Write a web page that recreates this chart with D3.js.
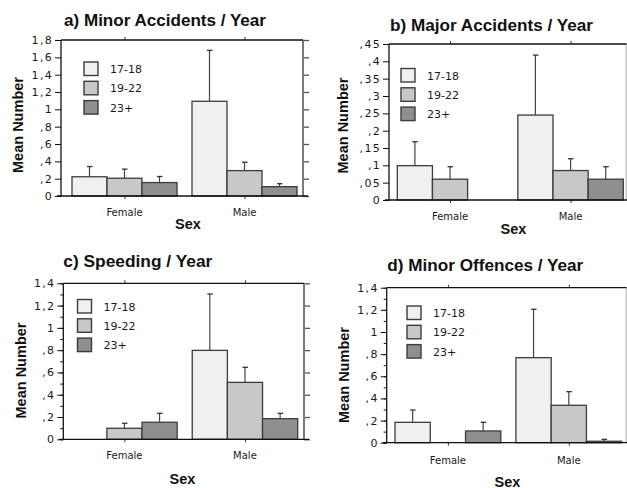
<!DOCTYPE html>
<html>
<head>
<meta charset="utf-8">
<script src="https://cdn.jsdelivr.net/npm/d3@7"></script>
<style>
  html, body { margin: 0; padding: 0; background: #fff; }
  svg { display: block; }
  .title { font-family: "Liberation Sans", Arial, sans-serif; font-weight: bold; font-size: 17px; fill: #111; }
  .axis-title { font-family: "Liberation Sans", Arial, sans-serif; font-weight: bold; font-size: 14.5px; fill: #111; }
  .tick-label { font-family: "DejaVu Sans", sans-serif; font-size: 11px; letter-spacing: 1.3px; fill: #1a1a1a; }
  .cat-label { font-family: "DejaVu Sans", sans-serif; font-size: 10px; fill: #1a1a1a; }
  .legend-label { font-family: "DejaVu Sans", sans-serif; font-size: 11px; fill: #1a1a1a; }
</style>
</head>
<body>
<div id="chart"></div>
<script>
// Categories
const sexes = ["Female", "Male"];
const ageGroups = ["17-18", "19-22", "23+"];

// Means per sex (rows) and age group (columns); "Upper" = mean + standard error
const minorAccidentsMean  = [[0.222, 0.205, 0.155], [1.093, 0.293, 0.108]];
const minorAccidentsUpper = [[0.340, 0.310, 0.225], [1.680, 0.390, 0.142]];

const majorAccidentsMean  = [[0.099, 0.060, 0.000], [0.245, 0.085, 0.060]];
const majorAccidentsUpper = [[0.168, 0.096, null],  [0.418, 0.119, 0.096]];

const speedingMean  = [[0.000, 0.099, 0.153], [0.798, 0.511, 0.185]];
const speedingUpper = [[null,  0.144, 0.233], [1.304, 0.646, 0.233]];

const minorOffencesMean  = [[0.184, 0.000, 0.106], [0.768, 0.338, 0.013]];
const minorOffencesUpper = [[0.295, null,  0.184], [1.205, 0.461, 0.030]];

// Value-axis tick labels
const minorAccidentsTicks = [0, 0.2, 0.4, 0.6, 0.8, 1, 1.2, 1.4, 1.6, 1.8];
const majorAccidentsTicks = [0, 0.05, 0.1, 0.15, 0.2, 0.25, 0.3, 0.35, 0.4, 0.45];
const speedingTicks = [0, 0.2, 0.4, 0.6, 0.8, 1, 1.2, 1.4];
const minorOffencesTicks = [0, 0.2, 0.4, 0.6, 0.8, 1, 1.2, 1.4];

const ageFill = d3.scaleOrdinal().domain(ageGroups).range(["#f0f0f0", "#c8c8c8", "#8f8f8f"]);

const panels = [
  { title: "a) Minor Accidents / Year", mean: minorAccidentsMean, upper: minorAccidentsUpper, ticks: minorAccidentsTicks,
    minor: false, rightTicks: true, rightColor: "#7a7a7a",
    frame: { l: 61, r: 303, t: 40, b: 196 }, bars: [72, 297],
    titleAt: [64, 26, 202], yTitleAt: [22.5, 125], sexAt: [188, 229], catY: 216, legendAt: [84, 62] },
  { title: "b) Major Accidents / Year", mean: majorAccidentsMean, upper: majorAccidentsUpper, ticks: majorAccidentsTicks,
    minor: false, rightTicks: false, rightColor: "#c4c4c4",
    frame: { l: 389, r: 626.5, t: 44, b: 200 }, bars: [397.3, 623.3],
    titleAt: [390, 31, 203], yTitleAt: [347.5, 125.5], sexAt: [513.5, 234], catY: 219.5, legendAt: [401, 68.5] },
  { title: "c) Speeding / Year", mean: speedingMean, upper: speedingUpper, ticks: speedingTicks,
    minor: true, rightTicks: true, rightColor: "#7a7a7a",
    frame: { l: 63.3, r: 304, t: 283.3, b: 439.3 }, bars: [71.7, 297.7],
    titleAt: [63.3, 267, 149], yTitleAt: [26, 370.5], sexAt: [182.5, 484], catY: 459, legendAt: [77.5, 299.5] },
  { title: "d) Minor Offences / Year", mean: minorOffencesMean, upper: minorOffencesUpper, ticks: minorOffencesTicks,
    minor: true, rightTicks: false, rightColor: "#c4c4c4",
    frame: { l: 386.7, r: 626.5, t: 287.7, b: 442.7 }, bars: [395, 621.7],
    titleAt: [387.3, 271, 196], yTitleAt: [349.3, 375], sexAt: [507.5, 486.5], catY: 463.5, legendAt: [407, 306] }
];

// Decimal comma, no leading zero: 0.45 -> ",45", 1.2 -> "1,2"
const fmt = v => {
  if (v === 0) return "0";
  return d3.format(".2~f")(v).replace(/^0\./, ".").replace(".", ",");
};

const svg = d3.select("#chart").append("svg")
  .attr("width", 627).attr("height", 488);

panels.forEach(p => {
  const g = svg.append("g");
  const f = p.frame;
  const yMax = p.ticks[p.ticks.length - 1];
  const y = d3.scaleLinear().domain([0, yMax]).range([f.b, f.t]);
  const x0 = d3.scaleBand().domain(sexes).range(p.bars).paddingInner(0.125).paddingOuter(0);
  const x1 = d3.scaleBand().domain(ageGroups).range([0, x0.bandwidth()]).padding(0);
  const centers = d3.scalePoint().domain(sexes)
    .range([x0("Female") + x0.bandwidth() / 2, x0("Male") + x0.bandwidth() / 2]);

  // Right axis (gray)
  const right = g.append("g").attr("transform", `translate(${f.r},0)`);
  if (p.rightTicks) {
    if (p.minor) {
      right.call(d3.axisRight(y).tickValues(d3.range(0, yMax + 1e-9, 0.1)).tickSize(4).tickFormat(""));
    }
    right.call(d3.axisRight(y).tickValues(p.ticks).tickSize(6).tickFormat(""));
    right.selectAll(".tick line").attr("stroke", "#555").attr("stroke-width", 1.3);
    right.selectAll(".domain").remove();
  }
  g.append("line").attr("x1", f.r).attr("x2", f.r).attr("y1", f.t).attr("y2", f.b)
    .attr("stroke", p.rightColor).attr("stroke-width", 2);

  // Top axis
  const top = g.append("g").attr("transform", `translate(0,${f.t})`)
    .call(d3.axisTop(centers).tickSize(3).tickFormat(""));
  top.select(".domain").remove();
  top.selectAll(".tick line").attr("stroke", "#333");
  g.append("line").attr("x1", f.l).attr("x2", f.r).attr("y1", f.t).attr("y2", f.t)
    .attr("stroke", "#111").attr("stroke-width", 1.3);

  // Bars
  const rows = [];
  sexes.forEach((s, i) => ageGroups.forEach((a, j) => {
    rows.push({ sex: s, age: a, mean: p.mean[i][j], upper: p.upper[i][j] });
  }));
  const bx = d => x0(d.sex) + x1(d.age);

  // Error bars (drawn first so bar tops cover their base)
  const err = rows.filter(d => d.upper !== null && d.mean > 0);
  g.selectAll(".err").data(err).join("line")
    .attr("x1", d => bx(d) + x1.bandwidth() / 2).attr("x2", d => bx(d) + x1.bandwidth() / 2)
    .attr("y1", d => y(d.mean)).attr("y2", d => y(d.upper))
    .attr("stroke", "#444").attr("stroke-width", 1.2);
  g.selectAll(".cap").data(err).join("line")
    .attr("x1", d => bx(d) + x1.bandwidth() / 2 - 2.5).attr("x2", d => bx(d) + x1.bandwidth() / 2 + 3)
    .attr("y1", d => y(d.upper)).attr("y2", d => y(d.upper))
    .attr("stroke", "#333").attr("stroke-width", 1.3);

  g.selectAll(".bar").data(rows.filter(d => d.mean > 0)).join("rect")
    .attr("x", bx).attr("width", x1.bandwidth())
    .attr("y", d => y(d.mean)).attr("height", d => y(0) - y(d.mean))
    .attr("fill", d => ageFill(d.age))
    .attr("stroke", "#3c3c3c").attr("stroke-width", 1.3);

  // Left axis
  const left = g.append("g").attr("transform", `translate(${f.l},0)`);
  if (p.minor) {
    left.append("g").call(d3.axisLeft(y).tickValues(d3.range(0, yMax + 1e-9, 0.1)).tickSize(3).tickFormat(""))
      .call(a => a.select(".domain").remove());
  }
  const lmaj = left.append("g").call(d3.axisLeft(y).tickValues(p.ticks).tickSize(6).tickPadding(2).tickFormat(fmt));
  lmaj.select(".domain").remove();
  left.selectAll(".tick line").attr("stroke", "#111");
  lmaj.selectAll(".tick text").attr("class", "tick-label").attr("font-family", null).attr("font-size", null).attr("fill", null);
  g.append("line").attr("x1", f.l).attr("x2", f.l).attr("y1", f.t).attr("y2", f.b)
    .attr("stroke", "#111").attr("stroke-width", 1.3);

  // Bottom axis
  const bottom = g.append("g").attr("transform", `translate(0,${f.b})`)
    .call(d3.axisBottom(centers).tickSize(3).tickFormat(""));
  bottom.select(".domain").remove();
  bottom.selectAll(".tick line").attr("stroke", "#333");
  g.append("line").attr("x1", f.l - 4).attr("x2", Math.min(f.r + 5, 627)).attr("y1", f.b).attr("y2", f.b)
    .attr("stroke", "#111").attr("stroke-width", 1.3);

  // Category labels
  g.selectAll(".cat").data(sexes).join("text")
    .attr("class", "cat-label")
    .attr("x", s => centers(s)).attr("y", p.catY)
    .attr("text-anchor", "middle").text(s => s);

  // Titles
  g.append("text").attr("class", "title").attr("x", p.titleAt[0]).attr("y", p.titleAt[1])
    .attr("textLength", p.titleAt[2]).attr("lengthAdjust", "spacingAndGlyphs").text(p.title);
  g.append("text").attr("class", "axis-title").attr("text-anchor", "middle")
    .attr("textLength", 96).attr("lengthAdjust", "spacingAndGlyphs")
    .attr("transform", `translate(${p.yTitleAt[0]},${p.yTitleAt[1]}) rotate(-90)`).text("Mean Number");
  g.append("text").attr("class", "axis-title").attr("text-anchor", "middle")
    .attr("x", p.sexAt[0]).attr("y", p.sexAt[1]).text("Sex");

  // Legend
  const lg = g.append("g").attr("transform", `translate(${p.legendAt[0]},${p.legendAt[1]})`);
  const item = lg.selectAll("g").data(ageGroups).join("g")
    .attr("transform", (d, i) => `translate(0,${i * 19.3})`);
  item.append("rect").attr("width", 14).attr("height", 13.5)
    .attr("fill", d => ageFill(d)).attr("stroke", "#3c3c3c").attr("stroke-width", 1.4);
  item.append("text").attr("class", "legend-label").attr("x", 26).attr("y", 11).text(d => d);
});
</script>
</body>
</html>
